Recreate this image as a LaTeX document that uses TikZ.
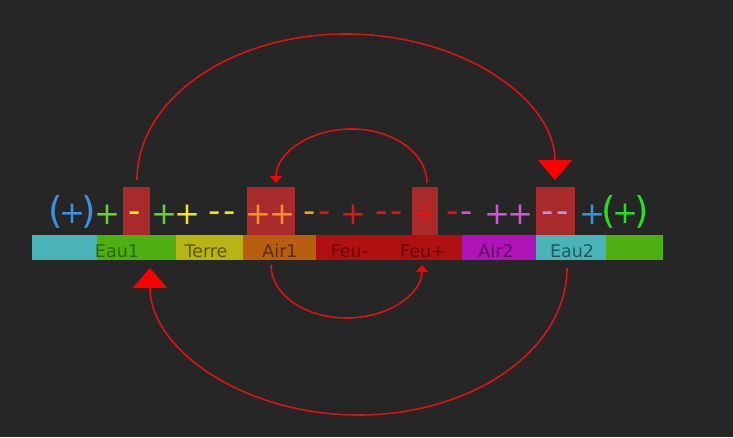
\documentclass[tikz,border=0pt]{standalone}
\usepackage{fontspec}
\setmainfont{DejaVu Sans}
\usetikzlibrary{arrows.meta}
\definecolor{bg}{HTML}{262626}
\definecolor{cyanbar}{HTML}{4BB4B9}
\definecolor{greenbar}{HTML}{4DB010}
\definecolor{yellowbar}{HTML}{B8B414}
\definecolor{orangebar}{HTML}{B85E10}
\definecolor{redbar}{HTML}{B01010}
\definecolor{magbar}{HTML}{B014B8}
\definecolor{cyantxt}{HTML}{1E5A5E}
\definecolor{greentxt}{HTML}{2A680A}
\definecolor{yellowtxt}{HTML}{5E5A08}
\definecolor{orangetxt}{HTML}{5C2A08}
\definecolor{redtxt}{HTML}{6A0A0A}
\definecolor{magtxt}{HTML}{5C0A60}
\definecolor{hibox}{HTML}{A82A2A}
\definecolor{symblue}{HTML}{3C92E2}
\definecolor{symgreen}{HTML}{64D232}
\definecolor{symgreenb}{HTML}{24E024}
\definecolor{symyellow}{HTML}{F2E224}
\definecolor{symorange}{HTML}{F29224}
\definecolor{symamber}{HTML}{E2A424}
\definecolor{symred}{HTML}{E41414}
\definecolor{symmag}{HTML}{D452D4}
\definecolor{symlav}{HTML}{BA92DA}
\definecolor{arcred}{HTML}{D81414}
\newcommand{\parplus}{\makebox[40pt]{{\fontsize{37}{37}\selectfont(}\kern-3.5pt{\fontsize{31}{31}\selectfont+}\kern-3.5pt{\fontsize{37}{37}\selectfont)}}}
\newcommand{\plusglyph}{\makebox[20pt]{+}}
\newcommand{\dashglyph}{\makebox[10pt]{-}}
\begin{document}
\begin{tikzpicture}[x=1pt,y=1pt,
  seg/.style={draw=none, inner sep=0pt, minimum height=25pt, anchor=south west},
  hbox/.style={fill=hibox, draw=none, inner sep=0pt, minimum height=48pt, anchor=south west},
  lbl/.style={anchor=base, inner sep=0pt, font=\fontsize{17.5}{19}\selectfont},
  plussym/.style={anchor=base, inner sep=0pt, font=\fontsize{31}{31}\selectfont},
  dashsym/.style={anchor=base, inner sep=0pt, font=\fontsize{34}{34}\selectfont},
  parsym/.style={anchor=base, inner sep=0pt},
  arcline/.style={draw=arcred, line width=1.6pt},
  bigtip/.style={-{Triangle[width=34pt,length=20pt,color=red]}},
  smalltip/.style={-{Triangle[width=12pt,length=7pt,color=red]}}
]
\fill[bg] (0,0) rectangle (733,437);
\useasboundingbox (0,0) rectangle (733,437);

% bar segments
\node[seg, fill=cyanbar,   minimum width=65pt]  (s0)    at (32,177)  {};
\node[seg, fill=greenbar,  minimum width=79pt]  (eau1)  at (97,177)  {};
\node[seg, fill=yellowbar, minimum width=67pt]  (terre) at (176,177) {};
\node[seg, fill=orangebar, minimum width=73pt]  (air1)  at (243,177) {};
\node[seg, fill=redbar,    minimum width=146pt] (feu)   at (316,177) {};
\node[seg, fill=magbar,    minimum width=74pt]  (air2)  at (462,177) {};
\node[seg, fill=cyanbar,   minimum width=70pt]  (eau2)  at (536,177) {};
\node[seg, fill=greenbar,  minimum width=57pt]  (s7)    at (606,177) {};

% labels
\node[lbl, text=greentxt]  (leau1)  at (117,180) {Eau1};
\node[lbl, text=yellowtxt] (lterre) at (206,180) {Terre};
\node[lbl, text=orangetxt] (lair1)  at (280,180) {Air1};
\node[lbl, text=redtxt]    (lfeum)  at (349.5,180) {Feu-};
\node[lbl, text=redtxt]    (lfeup)  at (423,180) {Feu+};
\node[lbl, text=magtxt]    (lair2)  at (496,180) {Air2};
\node[lbl, text=cyantxt]   (leau2)  at (572,180) {Eau2};

% highlight boxes
\node[hbox, minimum width=27pt] (b1) at (123,202) {};
\node[hbox, minimum width=48pt] (b2) at (247,202) {};
\node[hbox, minimum width=26pt] (b3) at (412,202) {};
\node[hbox, minimum width=39pt] (b4) at (536,202) {};

% symbols
\node[parsym, text=symblue]   (pp1) at (72,213.9)  {\parplus};
\node[parsym, text=symgreenb] (pp2) at (625,213.9) {\parplus};
\foreach \x/\c [count=\i] in {107/symgreen, 164/symgreen, 187/symyellow,
    258/symorange, 282/symorange, 353/symred, 425/symred, 497/symmag, 520/symmag,
    592/symblue}
  \node[plussym, text=\c] (p\i) at (\x,212.9) {\plusglyph};
\foreach \x/\c [count=\i] in {135/symyellow, 215/symyellow, 230/symyellow,
    310/symamber, 325/symred, 382/symred, 397/symred, 453/symred, 467/symmag,
    548/symlav, 563/symlav}
  \node[dashsym, text=\c] (m\i) at (\x,214.7) {\dashglyph};

% arc end points
\coordinate (t1s) at (137,257);
\coordinate (t2s) at (427,254);
\coordinate (u1s) at (567,169);
\coordinate (u2s) at (271,172);

% arcs
\draw[arcline, bigtip]   (t1s) arc[start angle=180, end angle=0, x radius=209pt, y radius=146pt];
\draw[arcline, smalltip] (t2s) arc[start angle=0, end angle=180, x radius=75.5pt, y radius=54pt];
\draw[arcline, bigtip]   (u1s) arc[start angle=0, end angle=-180, x radius=208.5pt, y radius=147pt];
\draw[arcline, smalltip] (u2s) arc[start angle=180, end angle=360, x radius=75.5pt, y radius=53pt];
\end{tikzpicture}
\end{document}
